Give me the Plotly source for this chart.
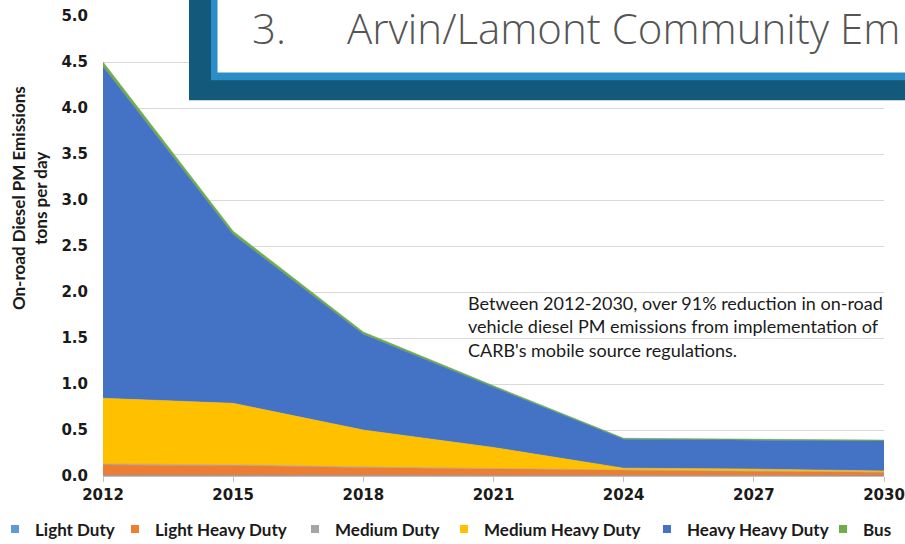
import plotly.graph_objects as go

# ---- data ----
years = [2012, 2015, 2018, 2021, 2024, 2027, 2030]
light_duty = [0.005, 0.004, 0.003, 0.002, 0.002, 0.001, 0.001]
light_heavy_duty = [0.115, 0.11, 0.09, 0.075, 0.06, 0.05, 0.04]
medium_duty = [0.01, 0.008, 0.006, 0.004, 0.003, 0.003, 0.002]
medium_heavy_duty = [0.715, 0.668, 0.401, 0.229, 0.02, 0.021, 0.012]
heavy_heavy_duty = [3.605, 1.835, 1.04, 0.655, 0.315, 0.315, 0.325]
bus = [0.05, 0.035, 0.025, 0.015, 0.01, 0.01, 0.01]

series_names = ["Light Duty", "Light Heavy Duty", "Medium Duty",
                "Medium Heavy Duty", "Heavy Heavy Duty", "Bus"]
series_values = [light_duty, light_heavy_duty, medium_duty,
                 medium_heavy_duty, heavy_heavy_duty, bus]
series_colors = ["#5B9BD5", "#ED7D31", "#A5A5A5", "#FFC000", "#4472C4", "#70AD47"]

y_ticks = [0, 0.5, 1.0, 1.5, 2.0, 2.5, 3.0, 3.5, 4.0, 4.5, 5.0]

W, H = 905, 544
ML, MR, MT, MB = 103, 21, 15.5, 67.5
PW, PH = W - ML - MR, H - MT - MB


def px_x(px):
    return (px - ML) / PW


def px_y(py):
    return (H - MB - py) / PH


fig = go.Figure()

for name, vals, col in zip(series_names, series_values, series_colors):
    fig.add_trace(go.Scatter(
        x=years, y=vals, name=name, stackgroup="one", mode="lines",
        line=dict(width=0.6, color=col), fillcolor=col, showlegend=False,
        hoverinfo="x+y+name"))

# legend entries (square markers), each in its own legend for placement
legend_text_starts = [35, 155, 335, 484, 687, 863]
legend_layouts = {}
for i, (name, col) in enumerate(zip(series_names, series_colors)):
    key = "legend" if i == 0 else f"legend{i + 1}"
    fig.add_trace(go.Scatter(
        x=[None], y=[None], mode="markers", name=name,
        marker=dict(symbol="square", size=8, color=col),
        legend=key, showlegend=True))
    legend_layouts[key] = dict(
        x=px_x(legend_text_starts[i] - 40), xanchor="left",
        y=px_y(530), yanchor="middle", orientation="h",
        bgcolor="rgba(0,0,0,0)", borderwidth=0,
        font=dict(family="Lato", size=17, color="#1a1a1a", weight="bold"),
        itemwidth=30)

fig.update_layout(
    width=W, height=H,
    margin=dict(l=ML, r=MR, t=MT, b=MB, autoexpand=False),
    paper_bgcolor="white", plot_bgcolor="white",
    showlegend=True,
    xaxis=dict(range=[2012, 2030], tickvals=years, ticktext=[str(y) for y in years],
               showgrid=False, zeroline=False, showline=True, linecolor="#BFBFBF",
               linewidth=1, ticks="outside", ticklen=5, tickcolor="#BFBFBF",
               tickfont=dict(family="DejaVu Sans", size=15, color="#1a1a1a", weight="bold")),
    yaxis=dict(range=[0, 5], tickvals=y_ticks, ticktext=[f"{v:.1f}" for v in y_ticks],
               showgrid=True, gridcolor="#D9D9D9", gridwidth=1, zeroline=False,
               showline=False, ticks="", ticklabelstandoff=14,
               tickfont=dict(family="DejaVu Sans", size=15, color="#1a1a1a", weight="bold")),
    **legend_layouts,
)

# title box
fig.add_shape(type="rect", xref="paper", yref="paper",
              x0=px_x(189), x1=px_x(912), y0=px_y(100), y1=px_y(-2),
              fillcolor="#12597B", line_width=0, layer="above")
fig.add_shape(type="rect", xref="paper", yref="paper",
              x0=px_x(211), x1=px_x(912), y0=px_y(80), y1=px_y(-2),
              fillcolor="#2A8DC5", line_width=0, layer="above")
fig.add_shape(type="rect", xref="paper", yref="paper",
              x0=px_x(217.5), x1=px_x(912), y0=px_y(72), y1=px_y(-2),
              fillcolor="white", line_width=0, layer="above")

title_font = dict(family="Open Sans", size=42, color="#555555", weight=300)
fig.add_annotation(text="3.", xref="paper", yref="paper",
                   x=px_x(250), y=px_y(27), xanchor="left", yanchor="middle",
                   showarrow=False, font=title_font)
fig.add_annotation(text="Arvin/Lamont Community Em", xref="paper", yref="paper",
                   x=px_x(345), y=px_y(27), xanchor="left", yanchor="middle",
                   showarrow=False, font=title_font)

# y-axis title
fig.add_annotation(text="On-road Diesel PM Emissions<br>tons per day",
                   xref="paper", yref="paper", x=px_x(29), y=px_y(198),
                   xanchor="center", yanchor="middle", textangle=-90,
                   showarrow=False,
                   font=dict(family="Lato", size=17, color="#1a1a1a", weight="bold"))

# note
fig.add_annotation(text="Between 2012-2030, over 91% reduction in on-road<br>"
                        "vehicle diesel PM emissions from implementation of<br>"
                        "CARB's mobile source regulations.",
                   xref="paper", yref="paper", x=px_x(466), y=px_y(327),
                   xanchor="left", yanchor="middle", align="left",
                   showarrow=False,
                   font=dict(family="Lato", size=18, color="#1a1a1a"))

fig.write_html("out.html",
               config={"displayModeBar": False},
               post_script="document.body.style.margin='0';"
                           "document.body.style.overflow='hidden';")
